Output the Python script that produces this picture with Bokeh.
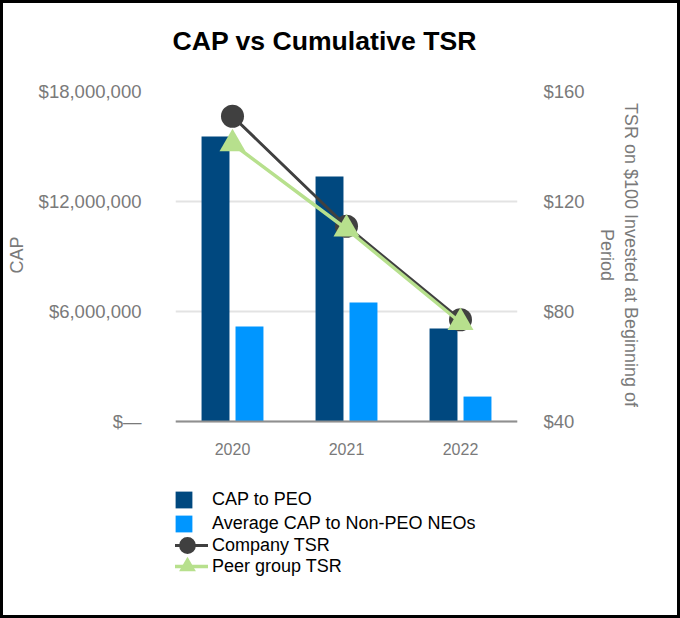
from bokeh.plotting import figure
from bokeh.models import (ColumnDataSource, FactorRange, Range1d, LinearAxis, Legend,
                          LegendItem, FixedTicker, NumeralTickFormatter)
from bokeh.transform import dodge
from bokeh.embed import file_html
from bokeh.resources import INLINE

# ---- data ----
years = ["2020", "2021", "2022"]
cap_peo = [15_550_000, 13_370_000, 5_070_000]
cap_neo = [5_180_000, 6_490_000, 1_360_000]
company_tsr = [151, 111, 77]
peer_tsr = [141, 110, 76]

cap_ticks = [0, 6_000_000, 12_000_000, 18_000_000]
tsr_ticks = [40, 80, 120, 160]
series_labels = ["CAP to PEO", "Average CAP to Non-PEO NEOs", "Company TSR", "Peer group TSR"]

FONT = "Liberation Sans"
GRAY = "#7a7a7a"
DARK = "#00487f"
LIGHT = "#0096ff"
COMP = "#404040"
PEER = "#b7e08d"

# layout: bar area 330 px tall, frame extended 157 px below the baseline to hold the legend
BAR_PX, EXTRA_PX = 330, 157
cap_lo, cap_hi = cap_ticks[0], cap_ticks[-1]
tsr_lo, tsr_hi = tsr_ticks[0], tsr_ticks[-1]
cap_start = cap_lo - (cap_hi - cap_lo) * EXTRA_PX / BAR_PX
tsr_start = tsr_lo - (tsr_hi - tsr_lo) * EXTRA_PX / BAR_PX
PAD = "\u00a0" * 32   # keeps axis titles centred on the bar area

src = ColumnDataSource(dict(year=years, peo=cap_peo, neo=cap_neo,
                            comp=company_tsr, peer=peer_tsr))

p = figure(x_range=FactorRange(*years), y_range=Range1d(cap_start, cap_hi),
           frame_width=342, frame_height=BAR_PX + EXTRA_PX,
           min_border_left=172, min_border_right=160, min_border_top=88, min_border_bottom=37,
           output_backend="svg", toolbar_location=None, title="CAP vs Cumulative TSR\n ")
p.outline_line_color = None
p.styles = {"border": "3px solid black"}

p.title.text_font = FONT
p.title.text_font_size = "26.6px"
p.title.text_font_style = "bold"
p.title.text_color = "black"
p.title.align = "left"
p.title.offset = -3
p.title.standoff = 12

b1 = p.vbar(x=dodge("year", -0.149, range=p.x_range), top="peo", width=0.245,
            source=src, fill_color=DARK, line_color=None)
b2 = p.vbar(x=dodge("year", 0.149, range=p.x_range), top="neo", width=0.245,
            source=src, fill_color=LIGHT, line_color=None)

p.extra_y_ranges = {"tsr": Range1d(tsr_start, tsr_hi)}
l1 = p.line(x="year", y="comp", source=src, y_range_name="tsr", line_color=COMP, line_width=3)
m1 = p.scatter(x="year", y="comp", source=src, y_range_name="tsr", marker="circle",
               size=23, fill_color=COMP, line_color=None)
l2 = p.line(x="year", y="peer", source=src, y_range_name="tsr", line_color=PEER, line_width=3.5)
m2 = p.scatter(x="year", y="peer", source=src, y_range_name="tsr", marker="triangle",
               size=26, fill_color=PEER, line_color=None)

# left axis
ya = p.yaxis[0]
ya.ticker = FixedTicker(ticks=cap_ticks)
ya.bounds = (cap_lo, cap_hi)
ya.formatter = NumeralTickFormatter(format="$0,0")
ya.major_label_overrides = {0: "$\u2014"}
ya.axis_line_color = None
ya.major_tick_line_color = None
ya.minor_tick_line_color = None
ya.major_label_text_font = FONT
ya.major_label_text_font_size = "18.5px"
ya.major_label_text_color = GRAY
ya.major_label_standoff = 28
ya.axis_label = PAD + "CAP"
ya.axis_label_text_font = FONT
ya.axis_label_text_font_size = "18px"
ya.axis_label_text_font_style = "normal"
ya.axis_label_text_color = GRAY
ya.axis_label_standoff = 9

# right axis
ra = LinearAxis(y_range_name="tsr", ticker=FixedTicker(ticks=tsr_ticks),
                formatter=NumeralTickFormatter(format="$0"), bounds=(tsr_lo, tsr_hi))
ra.axis_line_color = None
ra.major_tick_line_color = None
ra.minor_tick_line_color = None
ra.major_label_text_font = FONT
ra.major_label_text_font_size = "18.5px"
ra.major_label_text_color = GRAY
ra.major_label_standoff = 20
ra.axis_label = "TSR on $100 Invested at Beginning of" + PAD + "\nPeriod" + PAD
ra.axis_label_text_font = FONT
ra.axis_label_text_font_size = "18px"
ra.axis_label_text_font_style = "normal"
ra.axis_label_text_color = GRAY
ra.axis_label_standoff = 9
p.add_layout(ra, "right")

# x axis drawn at the CAP = 0 baseline
xa = p.xaxis[0]
xa.fixed_location = cap_lo
xa.axis_line_color = "#8f8f8f"
xa.axis_line_width = 2
xa.major_tick_line_color = None
xa.minor_tick_line_color = None
xa.major_label_text_font = FONT
xa.major_label_text_font_size = "16px"
xa.major_label_text_color = GRAY
xa.major_label_standoff = 15

p.xgrid.grid_line_color = None
p.ygrid.grid_line_color = "#e3e3e3"
p.ygrid.grid_line_width = 2

# legend rows (inside the extended frame, under the baseline)
rows = [
    ([b1], series_labels[0], 21, 21, (-2, 68), 18),
    ([b2], series_labels[1], 21, 21, (-2, 44), 18),
    ([l1, m1], series_labels[2], 42, 42, (-9, 12), 4),
    ([l2, m2], series_labels[3], 42, 42, (-9, -9), 4),
]
for rends, lab, gw, gh, loc, so in rows:
    lg = Legend(items=[LegendItem(label=lab, renderers=rends)], location=loc,
                glyph_width=gw, glyph_height=gh, label_standoff=so, padding=0, margin=0,
                spacing=0)
    lg.border_line_color = None
    lg.background_fill_alpha = 0
    lg.label_text_font = FONT
    lg.label_text_font_size = "18px"
    lg.label_text_color = "black"
    p.add_layout(lg, "center")

open("out.html", "w").write(file_html(p, INLINE))
